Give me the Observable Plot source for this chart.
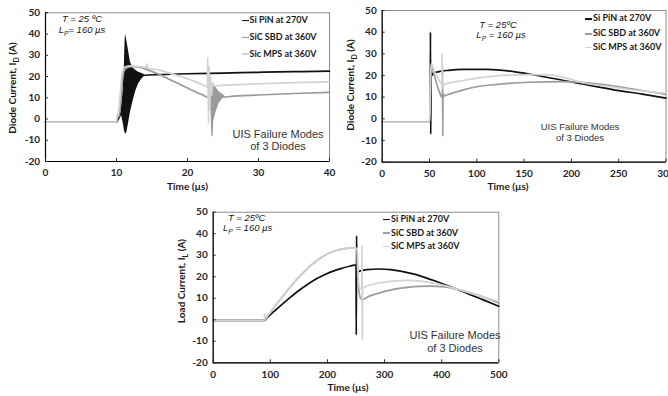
<!DOCTYPE html>
<html><head><meta charset="utf-8">
<script src="https://cdn.jsdelivr.net/npm/d3@7"></script>
<script src="https://cdn.jsdelivr.net/npm/@observablehq/plot@0.6"></script>
<style>
html,body{margin:0;padding:0;background:#fff;overflow:hidden;}
#root{position:relative;width:668px;height:396px;}
.panel{position:absolute;}
.panel svg{overflow:visible;}
.lbl{position:absolute;white-space:nowrap;line-height:1.1;color:#262626;}
</style></head><body><div id="root"></div>
<script>
// ---------- data ----------
const seriesNames1 = ["Si PiN at 270V", "SiC SBD at 360V", "Sic MPS at 360V"];
const seriesNames = ["Si PiN at 270V", "SiC SBD at 360V", "SiC MPS at 360V"];
const colors = ["#111111", "#9b9b9b", "#d2d2d2"];
const yTicks = [-20, -10, 0, 10, 20, 30, 40, 50];
const x1Ticks = [0, 10, 20, 30, 40];
const x2Ticks = [0, 50, 100, 150, 200, 250, 300];
const x3Ticks = [0, 100, 200, 300, 400, 500];

// Panel 1 : diode current, 0-40 us
const p1Pin = [[0,-1.5],[10,-1.5],[10.1,-1],[10.4,1],[10.65,3],[10.9,8],[11.3,15],[12,19],[13,20.3],[14,20.6],[16,20.9],[20,21.3],[25,21.6],[30,22],[35,22.3],[40,22.5]];
const p1PinRing = [[10.65,2.5,3],[10.9,-1,12],[11.1,-5,24],[11.2,-6.5,36],[11.27,-7,40],[11.45,-6.5,37],[11.7,-2,32],[11.95,3,27],[12.3,8,24],[12.7,13,23],[13.1,16.5,22],[13.5,18.5,21.5],[13.9,20,21]];
const p1Sbd = [[0,-1.5],[10,-1.5],[10.1,0],[10.4,2],[10.6,8],[10.8,17],[11,22],[11.3,23.8],[12,24.7],[13,24.5],[14,23.6],[16,21],[18,17.8],[20,14.6],[22,11.5],[23.1,10],[23.3,17],[23.45,-8],[23.6,15],[23.75,2],[23.9,13],[24.1,6],[24.3,12.5],[24.5,8.5],[24.8,11.5],[25.2,10.3],[26,10.6],[30,11.3],[35,12],[40,12.5]];
const p1SbdRing = [[23.3,5,17],[23.6,-2,16],[24,3,15],[24.4,7,13],[24.8,9,12],[25.2,10,11]];
const p1Mps = [[0,-1.5],[10,-1.5],[10.05,1],[10.3,3.5],[10.5,11],[10.7,19],[10.9,23],[11.2,24.5],[12,25],[13,24.8],[14.2,24.2],[14.3,26],[14.4,24],[16,23],[18,21],[20,19],[22,16.3],[22.8,15],[22.85,29],[22.95,-2],[23.05,25],[23.15,4],[23.25,20],[23.4,11],[23.55,17],[23.8,15.5],[24.5,15.8],[27,16.2],[30,16.6],[35,17.1],[40,17.5]];

// Panel 2 : diode current, 0-300 us
const p2Pin = [[0,-1.5],[50,-1.5],[50.8,-1.5],[51,40],[51.3,-7],[51.8,22],[52.5,20],[54,21],[60,21.8],[70,22.4],[86,22.8],[111,22.8],[139,21.8],[174,19.2],[210,16.2],[245,13.4],[275,11.4],[300,9.6]];
const p2Sbd = [[0,-1.5],[50,-1.5],[50.6,5],[51.5,22],[52.3,25],[54,22],[57,17],[60,13],[63,10],[63.6,9.8],[63.8,24],[64,-8],[64.3,12],[65,10.5],[67,10.8],[75,12],[86,13.4],[100,14.8],[121,15.9],[156,16.9],[190,17.2],[227,16.2],[262,14],[300,11.3]];
const p2Mps = [[0,-1.5],[50,-1.5],[50.5,5],[51.3,22],[52,25.5],[53.5,24],[56,21],[59,18.5],[62,16.5],[63.2,16],[63.4,30],[63.6,14],[64.5,15.5],[67,16.2],[75,16.9],[86,17.7],[100,18.8],[121,19.8],[156,20.4],[177,20.3],[195,18.8],[210,16.9],[245,14.6],[275,12.9],[300,11.8]];

// Panel 3 : load current, 0-500 us
const p3Pin = [[0,-0.3],[90,-0.3],[92,0.3],[105,3.5],[120,7],[135,10.4],[150,13.6],[165,16.4],[180,18.9],[195,20.9],[210,22.6],[225,23.9],[240,25],[250,25.5],[250.5,-7],[251,39],[251.5,22],[255,22.5],[270,23.3],[290,23.6],[310,23.3],[330,22.5],[350,21.3],[370,19.7],[390,17.9],[410,15.9],[430,13.8],[450,11.7],[475,9],[500,6.3]];
const p3Sbd = [[0,-0.3],[89.5,-0.3],[92,0.7],[100,3.4],[110,6.9],[120,10.3],[135,15.2],[150,19.8],[165,23.8],[180,27.2],[195,29.9],[210,31.7],[225,32.8],[240,33.3],[250,33.3],[252,33],[253,20],[258,10],[262,9.3],[270,10.6],[285,12],[300,13.2],[320,14.4],[340,15.1],[360,15.5],[380,15.6],[400,15.4],[420,14.6],[440,13.3],[460,11.7],[480,9.9],[500,7.8]];
const p3Mps = [[0,-0.3],[89.5,-0.3],[90,2.8],[90.5,0.3],[92,0.7],[100,3.4],[110,6.9],[120,10.3],[135,15.2],[150,19.8],[165,23.8],[180,27.2],[195,29.9],[210,31.7],[225,32.8],[240,33.3],[250,33.3],[252,33],[253,25],[256,15],[260,14.5],[260.5,34.5],[261,-9],[261.5,14],[266,15.4],[280,16.5],[300,17.5],[320,18.1],[340,18.3],[360,18.1],[380,17.3],[400,16.2],[420,14.8],[440,13.2],[460,11.6],[480,10],[500,8.5]];

// ---------- drawing ----------
const root = document.getElementById("root");

function panel(cfg) {
  const marks = [
    Plot.frame({stroke: "#8c8c8c", strokeWidth: 1}),
  ];
  cfg.series.forEach((s, i) => {
    if (s.ring) marks.push(Plot.areaY(s.ring, {x: d => d[0], y1: d => d[1], y2: d => d[2], fill: colors[i], curve: "linear"}));
    marks.push(Plot.line(s.data, {x: d => d[0], y: d => d[1], stroke: colors[i], strokeWidth: 1.7, curve: "monotone-x"}));
  });
  marks.push(
    Plot.ruleX([cfg.xDomain[0]], {stroke: "#000", strokeWidth: 1.2}),
    Plot.ruleY([yTicks[0]], {stroke: "#000", strokeWidth: 1.2}),
    Plot.axisX({ticks: cfg.xTicks, tickSize: -3, tickPadding: cfg.xPad, tickFormat: d => String(d), label: null}),
    Plot.axisY({ticks: yTicks, tickSize: -3, tickPadding: 8.5, tickFormat: d => String(d), label: null})
  );
  const svg = Plot.plot({
    width: cfg.width, height: cfg.height,
    marginLeft: cfg.m[0], marginRight: cfg.m[1], marginTop: cfg.m[2], marginBottom: cfg.m[3],
    x: {domain: cfg.xDomain, label: null},
    y: {domain: [yTicks[0], yTicks[yTicks.length - 1]], label: null},
    style: {fontFamily: "Lato, 'DejaVu Sans', sans-serif", fontSize: "10px", fontWeight: "bold", color: "#262626", background: "transparent", overflow: "visible"},
    marks
  });
  const div = document.createElement("div");
  div.className = "panel";
  div.style.left = cfg.left + "px"; div.style.top = cfg.top + "px"; div.style.width = cfg.width + "px";
  div.appendChild(svg);
  root.appendChild(div);
}

function label(html, x, y, style, rotate) {
  const d = document.createElement("div");
  d.className = "lbl";
  d.innerHTML = html;
  d.style.left = x + "px"; d.style.top = y + "px";
  d.style.transform = "translate(-50%,-50%)" + (rotate ? " rotate(-90deg)" : "");
  Object.assign(d.style, style);
  root.appendChild(d);
}

function legend(names, x, ys) {
  names.forEach((n, i) => {
    const d = document.createElement("div");
    d.className = "lbl";
    d.style.left = x + "px"; d.style.top = ys[i] + "px";
    d.style.transform = "translateY(-50%)";
    Object.assign(d.style, {fontFamily: "Lato, sans-serif", fontWeight: "bold", fontSize: "9px", color: "#1a1a1a"});
    d.innerHTML = `<span style="display:inline-block;width:7px;height:1.6px;background:${colors[i]};vertical-align:middle;margin-right:1px"></span>${n}`;
    root.appendChild(d);
  });
}

panel({left: 0, top: 0, width: 335, height: 196, m: [45, 6, 12.3, 35], xDomain: [0, 40], xTicks: x1Ticks, xPad: 10.5,
  series: [{data: p1Pin, ring: p1PinRing}, {data: p1Sbd, ring: p1SbdRing}, {data: p1Mps}]});
panel({left: 335, top: 0, width: 333, height: 196, m: [46.7, 2.5, 10, 34.3], xDomain: [0, 300], xTicks: x2Ticks, xPad: 10.5,
  series: [{data: p2Pin}, {data: p2Sbd}, {data: p2Mps}]});
panel({left: 170, top: 196, width: 340, height: 200, m: [42.7, 11.7, 15.7, 33.7], xDomain: [0, 500], xTicks: x3Ticks, xPad: 11,
  series: [{data: p3Pin}, {data: p3Sbd}, {data: p3Mps}]});

const axisStyle = {fontFamily: "Lato, sans-serif", fontWeight: "bold", fontSize: "10px", color: "#1a1a1a"};
const noteStyle = {fontFamily: "'Liberation Sans', Arial, sans-serif", fontStyle: "italic", fontSize: "9.5px", color: "#1a1a1a"};
const uisStyle = {fontFamily: "'Liberation Sans', Arial, sans-serif", fontSize: "11px", color: "#333", textAlign: "center", lineHeight: "12.4px"};

// Panel 1 texts
label("Diode Current, I<sub style='font-size:70%'>D</sub> (A)", 14, 88, axisStyle, true);
label("Time (µs)", 187.5, 185.5, axisStyle);
label("T = 25 ºC", 82, 19, noteStyle);
label("L<sub style='font-size:70%'>P</sub>= 160 µs", 82, 31, noteStyle);
label("UIS Failure Modes<br>of 3 Diodes", 278, 139.5, uisStyle);
legend(seriesNames1, 241.5, [20, 37, 53.5]);

// Panel 2 texts
label("Diode Current, I<sub style='font-size:70%'>D</sub> (A)", 351.7, 85, axisStyle, true);
label("Time (µs)", 508, 185.5, axisStyle);
label("T = 25ºC", 498, 25, noteStyle);
label("L<sub style='font-size:70%'>P</sub> = 160 µs", 501, 35.7, noteStyle);
label("UIS Failure Modes<br>of 3 Diodes", 580, 132, Object.assign({}, uisStyle, {fontSize: "9.5px", lineHeight: "11px"}));
legend(seriesNames, 585, [18.3, 33.3, 46.7]);

// Panel 3 texts
label("Load Current, I<sub style='font-size:70%'>L</sub> (A)", 182.7, 281, axisStyle, true);
label("Time (µs)", 348, 387, axisStyle);
label("T = 25ºC", 246.7, 218.3, noteStyle);
label("L<sub style='font-size:70%'>P</sub> = 160 µs", 247.7, 229.3, noteStyle);
label("UIS Failure Modes<br>of 3 Diodes", 455, 341.7, Object.assign({}, uisStyle, {lineHeight: "13.3px"}));
legend(seriesNames, 383, [219, 232.5, 246]);
</script></body></html>
